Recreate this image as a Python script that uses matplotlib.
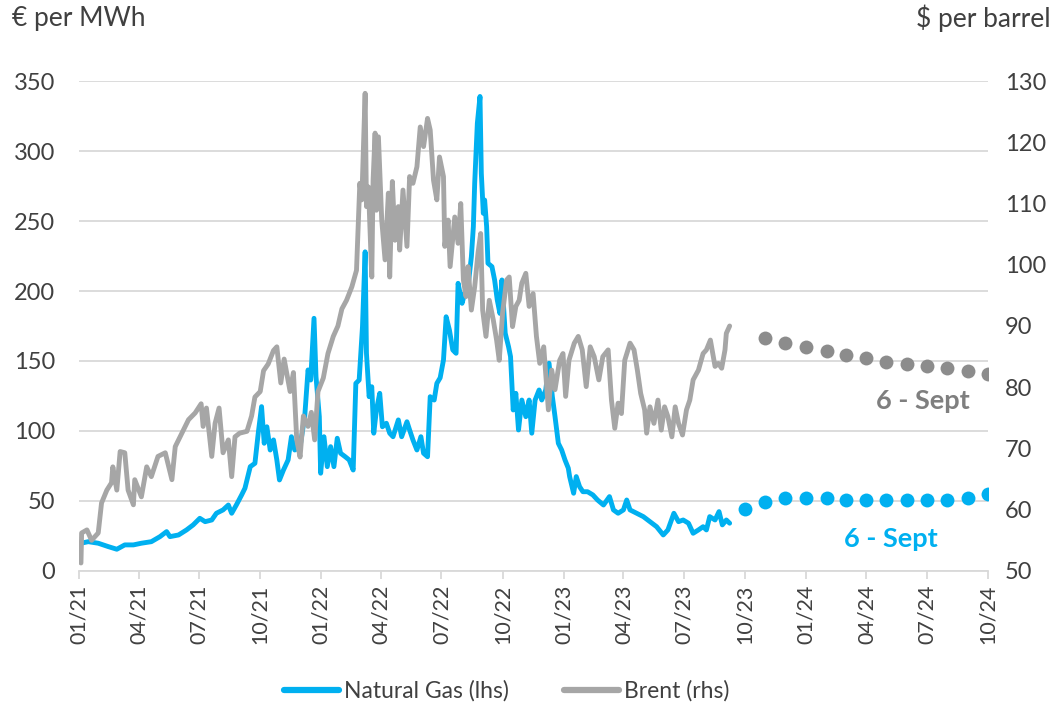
import matplotlib
matplotlib.use("Agg")
import matplotlib.pyplot as plt
import matplotlib.dates as mdates
from matplotlib.lines import Line2D
import pandas as pd

plt.rcParams["font.family"] = ["Lato", "DejaVu Sans"]

# ---- TTF natural gas, EUR/MWh (left axis) ----
gas_dates = [
    "2021-01-04", "2021-01-15", "2021-01-30", "2021-02-14", "2021-02-27", "2021-03-11",
    "2021-03-24", "2021-04-05", "2021-04-20", "2021-05-03", "2021-05-13", "2021-05-18",
    "2021-05-31", "2021-06-12", "2021-06-22", "2021-07-02", "2021-07-10", "2021-07-20",
    "2021-07-27", "2021-08-06", "2021-08-14", "2021-08-19", "2021-08-26", "2021-09-03",
    "2021-09-08", "2021-09-16", "2021-09-23", "2021-09-28", "2021-10-03", "2021-10-07",
    "2021-10-11", "2021-10-16", "2021-10-21", "2021-10-26", "2021-10-30", "2021-11-05",
    "2021-11-12", "2021-11-17", "2021-11-22", "2021-11-30", "2021-12-07", "2021-12-12",
    "2021-12-16", "2021-12-21", "2021-12-24", "2021-12-29", "2021-12-31", "2022-01-05",
    "2022-01-10", "2022-01-15", "2022-01-20", "2022-01-25", "2022-01-30", "2022-02-06",
    "2022-02-12", "2022-02-18", "2022-02-22", "2022-02-27", "2022-03-04", "2022-03-08",
    "2022-03-10", "2022-03-14", "2022-03-18", "2022-03-21", "2022-03-25", "2022-03-30",
    "2022-04-03", "2022-04-09", "2022-04-14", "2022-04-19", "2022-04-27", "2022-05-02",
    "2022-05-10", "2022-05-14", "2022-05-19", "2022-05-25", "2022-05-31", "2022-06-04",
    "2022-06-10", "2022-06-14", "2022-06-20", "2022-06-24", "2022-06-29", "2022-07-04",
    "2022-07-08", "2022-07-13", "2022-07-18", "2022-07-23", "2022-07-26", "2022-08-01",
    "2022-08-05", "2022-08-10", "2022-08-15", "2022-08-18", "2022-08-20", "2022-08-24",
    "2022-08-28", "2022-08-30", "2022-09-02", "2022-09-04", "2022-09-07", "2022-09-09",
    "2022-09-15", "2022-09-19", "2022-09-23", "2022-09-27", "2022-09-30", "2022-10-05",
    "2022-10-10", "2022-10-13", "2022-10-17", "2022-10-21", "2022-10-25", "2022-10-30",
    "2022-11-05", "2022-11-10", "2022-11-14", "2022-11-19", "2022-11-25", "2022-11-29",
    "2022-12-05", "2022-12-10", "2022-12-15", "2022-12-19", "2022-12-24", "2022-12-29",
    "2023-01-03", "2023-01-08", "2023-01-10", "2023-01-16", "2023-01-20", "2023-01-25",
    "2023-01-30", "2023-02-06", "2023-02-14", "2023-02-21", "2023-03-02", "2023-03-11",
    "2023-03-17", "2023-03-24", "2023-04-01", "2023-04-06", "2023-04-11", "2023-04-21",
    "2023-05-01", "2023-05-11", "2023-05-21", "2023-05-31", "2023-06-07", "2023-06-16",
    "2023-06-23", "2023-06-30", "2023-07-08", "2023-07-15", "2023-07-23", "2023-07-30",
    "2023-08-04", "2023-08-09", "2023-08-17", "2023-08-23", "2023-08-28", "2023-09-03",
    "2023-09-08",
]
gas_values = [
    19.8, 20.9, 19.8, 17.4, 15.5, 18.6,
    18.6, 19.8, 20.9, 24.5, 28.1, 24.5,
    25.7, 29.3, 32.9, 37.6, 35.2, 36.4,
    41.2, 43.6, 47.1, 41.2, 47.1, 54.3,
    59.1, 74.5, 76.9, 98.4, 117.4, 91.2,
    103.0, 86.4, 93.6, 79.3, 65.0, 72.1,
    79.3, 95.9, 86.4, 88.8, 110.2, 143.6,
    136.4, 180.5, 138.8, 110.2, 69.8, 95.9,
    74.5, 88.8, 74.5, 94.8, 84.1, 81.6,
    79.3, 72.1, 134.0, 136.4, 174.5, 228.0,
    155.5, 124.5, 131.6, 98.4, 115.0, 126.9,
    103.0, 105.5, 98.4, 95.9, 107.9, 95.9,
    106.6, 100.7, 93.6, 86.4, 95.9, 84.1,
    81.6, 124.5, 122.1, 134.0, 138.0, 150.7,
    181.6, 172.0, 157.9, 155.5, 205.5, 191.2,
    198.4, 203.1, 224.5, 245.9, 276.9, 319.8,
    339.0, 284.0, 255.5, 265.0, 245.9, 219.8,
    217.4, 207.9, 193.6, 184.0, 207.9, 169.8,
    160.2, 153.1, 115.0, 126.9, 100.7, 122.1,
    110.2, 122.1, 98.4, 122.1, 129.3, 122.1,
    129.3, 148.4, 124.5, 110.2, 91.2, 86.4,
    79.3, 73.4, 67.4, 55.5, 67.4, 60.2,
    56.6, 56.6, 54.3, 50.7, 47.1, 53.1,
    43.6, 41.2, 43.6, 50.7, 43.6, 41.2,
    38.8, 35.2, 31.6, 25.7, 29.3, 41.2,
    35.2, 36.4, 34.1, 26.9, 29.3, 31.6,
    29.3, 38.8, 36.4, 42.4, 32.9, 36.4,
    34.1,
]

# ---- Brent crude, USD/bbl (right axis) ----
brent_dates = [
    "2021-01-04", "2021-01-05", "2021-01-13", "2021-01-20", "2021-01-30", "2021-02-04",
    "2021-02-12", "2021-02-19", "2021-02-21", "2021-02-27", "2021-03-04", "2021-03-11",
    "2021-03-16", "2021-03-24", "2021-03-26", "2021-04-05", "2021-04-13", "2021-04-20",
    "2021-04-30", "2021-05-11", "2021-05-21", "2021-05-26", "2021-06-05", "2021-06-15",
    "2021-06-25", "2021-07-04", "2021-07-07", "2021-07-12", "2021-07-20", "2021-07-25",
    "2021-07-31", "2021-08-06", "2021-08-14", "2021-08-19", "2021-08-24", "2021-08-31",
    "2021-09-11", "2021-09-18", "2021-09-23", "2021-10-01", "2021-10-06", "2021-10-13",
    "2021-10-21", "2021-10-26", "2021-11-01", "2021-11-06", "2021-11-15", "2021-11-20",
    "2021-11-25", "2021-11-30", "2021-12-05", "2021-12-12", "2021-12-17", "2021-12-22",
    "2021-12-27", "2022-01-04", "2022-01-11", "2022-01-19", "2022-01-26", "2022-02-01",
    "2022-02-08", "2022-02-16", "2022-02-23", "2022-02-28", "2022-03-03", "2022-03-08",
    "2022-03-10", "2022-03-13", "2022-03-18", "2022-03-20", "2022-03-23", "2022-03-25",
    "2022-03-28", "2022-04-02", "2022-04-07", "2022-04-12", "2022-04-14", "2022-04-18",
    "2022-04-22", "2022-04-27", "2022-04-29", "2022-05-04", "2022-05-10", "2022-05-14",
    "2022-05-19", "2022-05-25", "2022-05-30", "2022-06-04", "2022-06-10", "2022-06-14",
    "2022-06-19", "2022-06-24", "2022-06-28", "2022-07-04", "2022-07-06", "2022-07-11",
    "2022-07-14", "2022-07-21", "2022-07-26", "2022-07-30", "2022-08-03", "2022-08-07",
    "2022-08-10", "2022-08-15", "2022-08-20", "2022-08-25", "2022-08-29", "2022-09-01",
    "2022-09-06", "2022-09-11", "2022-09-17", "2022-09-22", "2022-09-26", "2022-10-01",
    "2022-10-07", "2022-10-11", "2022-10-16", "2022-10-21", "2022-10-26", "2022-10-30",
    "2022-11-05", "2022-11-10", "2022-11-16", "2022-11-21", "2022-11-26", "2022-12-02",
    "2022-12-09", "2022-12-14", "2022-12-19", "2022-12-26", "2022-12-31", "2023-01-04",
    "2023-01-09", "2023-01-17", "2023-01-23", "2023-01-29", "2023-02-04", "2023-02-10",
    "2023-02-16", "2023-02-23", "2023-03-01", "2023-03-09", "2023-03-14", "2023-03-19",
    "2023-03-24", "2023-03-29", "2023-04-03", "2023-04-11", "2023-04-17", "2023-04-22",
    "2023-04-27", "2023-05-03", "2023-05-06", "2023-05-11", "2023-05-17", "2023-05-23",
    "2023-05-28", "2023-06-02", "2023-06-07", "2023-06-13", "2023-06-18", "2023-06-23",
    "2023-06-29", "2023-07-05", "2023-07-10", "2023-07-15", "2023-07-23", "2023-07-30",
    "2023-08-04", "2023-08-10", "2023-08-17", "2023-08-22", "2023-08-27", "2023-09-01",
    "2023-09-03", "2023-09-08",
]
brent_values = [
    51.3, 56.2, 56.7, 55.0, 56.2, 61.1,
    63.2, 64.4, 67.0, 63.2, 69.5, 69.3,
    63.2, 60.8, 64.9, 62.1, 67.0, 65.4,
    68.7, 69.3, 64.9, 70.3, 72.5, 74.7,
    75.8, 77.3, 73.6, 76.6, 68.7, 74.1,
    76.6, 69.3, 71.4, 65.4, 71.9, 72.5,
    72.8, 75.3, 78.4, 79.3, 82.7, 83.8,
    86.0, 86.6, 80.7, 84.6, 79.3, 82.4,
    71.4, 68.6, 75.3, 73.6, 75.9, 71.4,
    79.3, 81.5, 85.5, 88.3, 90.0, 92.8,
    94.2, 96.4, 99.1, 113.3, 110.6, 128.0,
    109.5, 112.7, 98.0, 113.8, 121.5, 108.9,
    120.9, 107.3, 100.8, 111.7, 98.0, 113.6,
    104.0, 109.5, 102.4, 112.2, 103.0, 114.4,
    113.3, 116.0, 122.5, 119.3, 123.9, 122.0,
    113.8, 110.6, 117.6, 114.4, 103.0, 107.3,
    99.7, 107.8, 103.5, 110.0, 97.5, 94.8,
    99.7, 92.6, 96.4, 101.9, 105.1, 92.6,
    88.3, 94.2, 91.0, 87.7, 84.4, 92.1,
    97.5, 98.0, 89.9, 93.2, 94.2, 97.0,
    98.6, 93.2, 95.3, 88.3, 83.9, 86.6,
    76.3, 82.8, 79.6, 84.4, 85.5, 78.5,
    84.4, 87.2, 88.3, 86.1, 80.1, 86.6,
    85.0, 81.2, 85.0, 86.1, 77.9, 73.3,
    77.4, 75.7, 84.4, 87.2, 86.1, 82.8,
    79.0, 76.3, 72.5, 76.8, 74.1, 77.9,
    73.0, 76.8, 75.2, 71.9, 76.8, 74.1,
    72.2, 76.3, 77.9, 81.2, 82.8, 85.5,
    86.1, 87.7, 83.4, 83.9, 83.1, 86.1,
    88.8, 90.0,
]

# ---- Forward curves as of 6 September ----
gas_fwd_dates = pd.date_range("2023-10-01", "2024-10-01", freq="MS")
gas_fwd_values = [44.3, 49.1, 51.9, 51.9, 51.9, 50.5, 50.5, 50.5, 50.5, 50.5, 50.5, 51.9, 55.0]
brent_fwd_dates = pd.date_range("2023-11-01", "2024-10-01", freq="MS")
brent_fwd_values = [88.0, 87.3, 86.6, 85.9, 85.2, 84.8, 84.2, 83.8, 83.5, 83.1, 82.7, 82.1]

left_ticks = [0, 50, 100, 150, 200, 250, 300, 350]
right_ticks = [50, 60, 70, 80, 90, 100, 110, 120, 130]
series_names = ["Natural Gas (lhs)", "Brent (rhs)"]
fwd_label = "6 - Sept"

BLUE = "#00B0F0"
GREY = "#A6A6A6"
GREY_DOT = "#8C8C8C"
GREY_TXT = "#7F7F7F"
TXT = "#404040"
GRID = "#D9D9D9"

fig = plt.figure(figsize=(10.60, 7.11), dpi=100)
ax = fig.add_axes([0.0745, 0.197, 0.8575, 0.689])
ax2 = ax.twinx()

gd = pd.to_datetime(gas_dates)
bd = pd.to_datetime(brent_dates)

ax.plot(gd, gas_values, color=BLUE, lw=3.5, solid_joinstyle="round",
        solid_capstyle="round", zorder=3)
ax.plot(gas_fwd_dates, gas_fwd_values, "o", color=BLUE, ms=10, mec="none", zorder=3)
ax2.plot(bd, brent_values, color=GREY, lw=3.5, solid_joinstyle="round",
         solid_capstyle="round", zorder=3)
ax2.plot(brent_fwd_dates, brent_fwd_values, "o", color=GREY_DOT, ms=10, mec="none", zorder=3)

xmin, xmax = pd.Timestamp("2021-01-01"), pd.Timestamp("2024-10-01")
ax.set_xlim(xmin, xmax)
ax.set_ylim(0, 350)
ax2.set_ylim(50, 130)
ax.set_yticks(left_ticks)
ax2.set_yticks(right_ticks)

ax.xaxis.set_major_locator(mdates.MonthLocator(bymonth=[1, 4, 7, 10]))
ax.xaxis.set_major_formatter(mdates.DateFormatter("%m/%y"))

ax.grid(axis="y", color=GRID, lw=1.3)
ax.set_axisbelow(True)
for a in (ax, ax2):
    for s in ("left", "right", "top", "bottom"):
        a.spines[s].set_visible(False)
ax.spines["bottom"].set_visible(True)
ax.spines["bottom"].set_color(GRID)
ax.spines["bottom"].set_linewidth(1.3)

ax.tick_params(axis="x", colors=GRID, length=6, width=1.3, pad=4, labelcolor=TXT,
               labelsize=15.5, labelrotation=90)
ax.tick_params(axis="y", length=0, pad=17, labelcolor=TXT, labelsize=17)
ax2.tick_params(axis="y", length=0, pad=12, labelcolor=TXT, labelsize=17)

fig.text(0.011, 0.974, "\u20ac per MWh", ha="left", va="center", fontsize=19, color=TXT)
fig.text(0.991, 0.974, "$ per barrel", ha="right", va="center", fontsize=19, color=TXT)

ax2.text(pd.Timestamp("2024-06-25"), 77.8, fwd_label, ha="center", va="center",
         fontsize=19.5, fontweight="bold", color=GREY_TXT)
ax.text(pd.Timestamp("2024-05-08"), 22.9, fwd_label, ha="center", va="center",
        fontsize=19.5, fontweight="bold", color=BLUE)

handles = [Line2D([], [], color=BLUE, lw=4.5, solid_capstyle="round"),
           Line2D([], [], color=GREY, lw=4.5, solid_capstyle="round")]
fig.legend(handles, series_names, loc="center", bbox_to_anchor=(0.478, 0.028), ncol=2,
           frameon=False, fontsize=16.5, labelcolor=TXT, handlelength=2.4,
           handletextpad=0.2, columnspacing=2.4)

fig.savefig("out.png", dpi=100)
